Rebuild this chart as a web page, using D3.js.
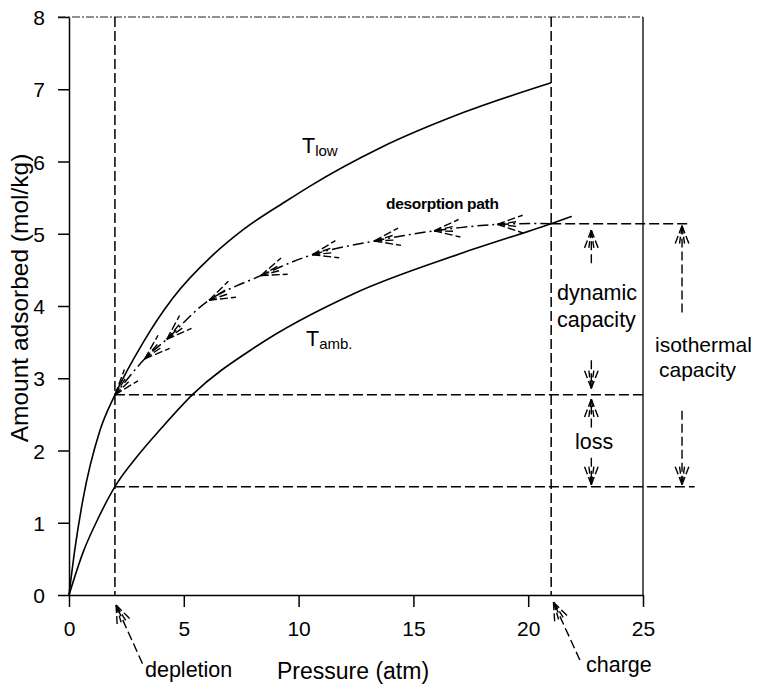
<!DOCTYPE html>
<html>
<head>
<meta charset="utf-8">
<script src="https://cdn.jsdelivr.net/npm/d3@7"></script>
<style>
  body { margin: 0; background: #fff; }
  svg { display: block; }
  text { font-family: "Liberation Sans", Arial, sans-serif; fill: #000; }
</style>
</head>
<body>
<svg id="chart" width="758" height="687"></svg>
<script>
"use strict";

// isotherm at low temperature
const lowP = [0, 0.25, 0.6, 1.35, 2, 3.2, 4.5, 6.25, 7.6, 9.5, 10.5, 13.5, 17.2, 21];
const lowQ = [0, 0.62, 1.31, 2.28, 2.77, 3.48, 4.1, 4.7, 5.06, 5.46, 5.66, 6.18, 6.68, 7.09];

// isotherm at ambient temperature
const ambP = [0, 0.6, 1.3, 2, 3, 4, 5.4, 8.2, 12.4, 17, 21, 21.9];
const ambQ = [0, 0.58, 1.08, 1.5, 1.93, 2.3, 2.78, 3.45, 4.17, 4.72, 5.14, 5.24];

// desorption path, from charge back to depletion
const pathP = [21, 18.65, 15.9, 13.3, 10.6, 8.35, 6.1, 4.26, 3.3, 2];
const pathQ = [5.14, 5.13, 5.04, 4.9, 4.71, 4.42, 4.08, 3.54, 3.27, 2.77];

const xTicks = [0, 5, 10, 15, 20, 25];
const yTicks = [0, 1, 2, 3, 4, 5, 6, 7, 8];

const depletionP = 2;
const chargeP = 21;
const chargeQ = 5.14;
const depletedQ = 2.77;
const ambDepletedQ = 1.5;

// vertical capacity arrows: x, tail, tip (data units)
const capArrows = [
  {x: 22.75, tail: 4.59, tip: 5.05},
  {x: 22.75, tail: 3.25, tip: 2.86},
  {x: 22.75, tail: 2.32, tip: 2.71},
  {x: 22.75, tail: 1.9, tip: 1.53},
  {x: 26.7, tail: 3.91, tip: 5.11},
  {x: 26.7, tail: 2.55, tip: 1.53}
];

const svg = d3.select("#chart");

const x = d3.scaleLinear().domain([0, 25]).range([69, 643]);
const y = d3.scaleLinear().domain([0, 8]).range([595, 17]);

const DASH = "10,4";

// axes
svg.append("g")
    .attr("transform", `translate(${x(0)},0)`)
    .call(d3.axisLeft(y).tickValues(yTicks).tickSize(11).tickSizeOuter(0).tickPadding(13))
    .call(g => g.selectAll("text").attr("font-size", 21).attr("dy", "0.36em"))
    .call(g => g.selectAll("line, path").attr("stroke", "#000").attr("stroke-width", 1.5));

svg.append("g")
    .attr("transform", `translate(0,${y(0)})`)
    .call(d3.axisBottom(x).tickValues(xTicks).tickSize(12).tickSizeOuter(0).tickPadding(14))
    .call(g => g.selectAll("text").attr("font-size", 21))
    .call(g => g.selectAll("line, path").attr("stroke", "#000").attr("stroke-width", 1.5));

// frame: right solid, top thin broken
svg.append("line")
    .attr("x1", x(25)).attr("x2", x(25)).attr("y1", y(8)).attr("y2", y(0))
    .attr("stroke", "#000").attr("stroke-width", 1.3);
svg.append("line")
    .attr("x1", x(0) - 11).attr("x2", x(25)).attr("y1", y(8)).attr("y2", y(8))
    .attr("stroke", "#222").attr("stroke-width", 1.2).attr("stroke-dasharray", "8,2,2,2");

// axis titles
svg.append("text")
    .attr("x", (x(0) + x(25)) / 2 - 3).attr("y", 679)
    .attr("text-anchor", "middle").attr("font-size", 23)
    .text("Pressure (atm)");
svg.append("text")
    .attr("transform", `translate(28,298) rotate(-90)`)
    .attr("text-anchor", "middle").attr("font-size", 24.5)
    .text("Amount adsorbed (mol/kg)");

// reference dashed lines
const refLines = svg.append("g")
    .attr("stroke", "#000").attr("stroke-width", 1.5).attr("stroke-dasharray", DASH).attr("fill", "none");
refLines.append("line")
    .attr("x1", x(depletionP)).attr("x2", x(depletionP)).attr("y1", y(8)).attr("y2", y(0));
refLines.append("line")
    .attr("x1", x(chargeP)).attr("x2", x(chargeP)).attr("y1", y(8)).attr("y2", y(0));
refLines.append("line")
    .attr("x1", x(chargeP)).attr("x2", x(27)).attr("y1", y(chargeQ)).attr("y2", y(chargeQ));
refLines.append("line")
    .attr("x1", x(depletionP)).attr("x2", x(25)).attr("y1", y(depletedQ)).attr("y2", y(depletedQ));
refLines.append("line")
    .attr("x1", x(depletionP)).attr("x2", x(27.25)).attr("y1", y(ambDepletedQ)).attr("y2", y(ambDepletedQ));

// isotherms
const line = d3.line().x(d => x(d[0])).y(d => y(d[1])).curve(d3.curveMonotoneX);
svg.append("path")
    .attr("d", line(d3.zip(lowP, lowQ)))
    .attr("fill", "none").attr("stroke", "#000").attr("stroke-width", 1.6);
svg.append("path")
    .attr("d", line(d3.zip(ambP, ambQ)))
    .attr("fill", "none").attr("stroke", "#000").attr("stroke-width", 1.6);

// desorption path
const pathPts = d3.zip(pathP, pathQ);
svg.append("path")
    .attr("d", d3.line().x(d => x(d[0])).y(d => y(d[1])).curve(d3.curveCatmullRom)(pathPts))
    .attr("fill", "none").attr("stroke", "#000").attr("stroke-width", 1.5)
    .attr("stroke-dasharray", "11,4,2,4");

// arrow head made of dashed barbs, tip at (tx,ty), pointing along (dx,dy)
function arrowHead(g, tx, ty, dx, dy, barbs) {
  const n = Math.hypot(dx, dy);
  const bx = -dx / n, by = -dy / n;
  barbs.forEach(([deg, len]) => {
    const a = deg * Math.PI / 180;
    const rx = bx * Math.cos(a) - by * Math.sin(a);
    const ry = bx * Math.sin(a) + by * Math.cos(a);
    g.append("line")
        .attr("x1", tx).attr("y1", ty)
        .attr("x2", tx + rx * len).attr("y2", ty + ry * len)
        .attr("stroke", "#000").attr("stroke-width", 1.4)
        .attr("stroke-dasharray", "8,3");
  });
}

const heads = svg.append("g");
const pathBarbs = [[19, 27], [-19, 27], [7, 21], [-7, 21]];
for (let k = 1; k < pathPts.length; k++) {
  const p0 = pathPts[k - 1];
  const p1 = pathPts[k];
  arrowHead(heads, x(p1[0]), y(p1[1]), x(p1[0]) - x(p0[0]), y(p1[1]) - y(p0[1]), pathBarbs);
}

// vertical capacity arrows
const vBarbs = [[21, 20], [-21, 20], [8, 18], [-8, 18]];
capArrows.forEach(a => {
  heads.append("line")
      .attr("x1", x(a.x)).attr("x2", x(a.x)).attr("y1", y(a.tail)).attr("y2", y(a.tip))
      .attr("stroke", "#000").attr("stroke-width", 1.4).attr("stroke-dasharray", "9,4");
  arrowHead(heads, x(a.x), y(a.tip), 0, y(a.tip) - y(a.tail), vBarbs);
});

// depletion / charge pointers
const pointers = [
  {tipP: 2.05, tipQ: -0.14, tailP: 3.2, tailQ: -0.95},
  {tipP: 21.1, tipQ: -0.1, tailP: 22.25, tailQ: -0.9}
];
pointers.forEach(p => {
  heads.append("line")
      .attr("x1", x(p.tailP)).attr("y1", y(p.tailQ)).attr("x2", x(p.tipP)).attr("y2", y(p.tipQ))
      .attr("stroke", "#000").attr("stroke-width", 1.4).attr("stroke-dasharray", "9,4");
  arrowHead(heads, x(p.tipP), y(p.tipQ), x(p.tipP) - x(p.tailP), y(p.tipQ) - y(p.tailQ), vBarbs);
});

// labels
const lab = svg.append("g").attr("font-size", 21.5);
lab.append("text").attr("x", 145).attr("y", 677).text("depletion");
lab.append("text").attr("x", 586).attr("y", 672).text("charge");
lab.append("text").attr("x", 557).attr("y", 300).text("dynamic");
lab.append("text").attr("x", 557).attr("y", 327).text("capacity");
lab.append("text").attr("x", 575).attr("y", 449).text("loss");
lab.append("text").attr("x", 655).attr("y", 352).attr("font-size", 21).text("isothermal");
lab.append("text").attr("x", 659).attr("y", 377).attr("font-size", 21).text("capacity");

svg.append("text").attr("x", 386).attr("y", 209).attr("font-size", 15.5)
    .attr("font-weight", "bold").attr("letter-spacing", -0.3)
    .text("desorption path");

const tlow = svg.append("text").attr("x", 302).attr("y", 153).attr("font-size", 21.5);
tlow.append("tspan").text("T");
tlow.append("tspan").attr("font-size", 15).attr("dy", 3).text("low");

const tamb = svg.append("text").attr("x", 306).attr("y", 346).attr("font-size", 21.5);
tamb.append("tspan").text("T");
tamb.append("tspan").attr("font-size", 15).attr("dy", 3).text("amb.");
</script>
</body>
</html>
